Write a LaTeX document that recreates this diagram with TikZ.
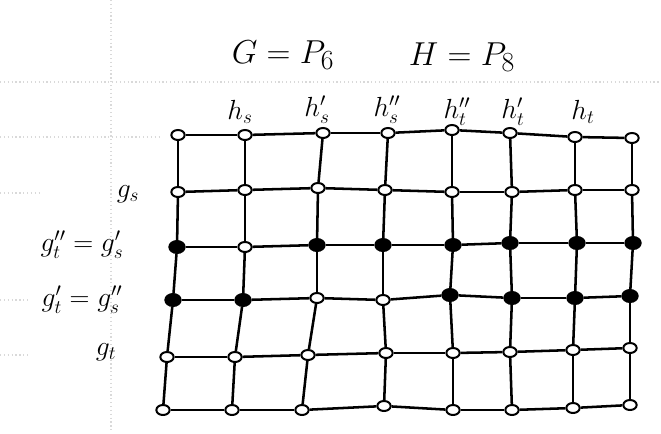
\documentclass[tikz,border=0pt]{standalone}
\usetikzlibrary{shapes.geometric}
\begin{document}
\begin{tikzpicture}[x=0.75pt,y=-0.75pt,
  vtx/.style={ellipse,draw,line width=1.5pt,minimum width=10pt,minimum height=7.5pt,inner sep=0pt,fill=white},
  full/.style={fill=black,minimum width=11.5pt,minimum height=9pt},
  link/.style={line width=1.9pt,black},
  faint/.style={gray!30,dotted,line width=0.9pt},
  lab/.style={font=\fontsize{20}{22}\selectfont,inner sep=1pt},
  rlab/.style={font=\fontsize{22}{24}\selectfont,inner sep=1pt},
  ttl/.style={font=\fontsize{30}{34}\selectfont,inner sep=1pt}]
\useasboundingbox (0,0) rectangle (661,433);
% faint notebook lines
\draw[faint] (0,82) -- (661,82);
\draw[faint] (111,0) -- (111,433);
\draw[faint] (0,137) -- (160,137);
\draw[faint] (0,193) -- (40,193);
\draw[faint] (0,300) -- (30,300);
\draw[faint] (0,355) -- (30,355);
% vertices
\foreach \c/\x/\y in {1/178/135,2/245/135,3/323/133,4/388/133,5/452/130,6/510/133,7/575/137,8/632/138}
  \node[vtx] (v1-\c) at (\x,\y) {};
\foreach \c/\x/\y in {1/178/192,2/245/190,3/318/188,4/385/190,5/452/192,6/512/192,7/575/190,8/632/190}
  \node[vtx] (v2-\c) at (\x,\y) {};
\foreach \c/\x/\y/\f in {1/177/247/full,2/245/247/,3/317/245/full,4/383/245/full,5/453/245/full,6/510/243/full,7/577/243/full,8/633/243/full}
  \node[vtx,\f] (v3-\c) at (\x,\y) {};
\foreach \c/\x/\y/\f in {1/173/300/full,2/243/300/full,3/317/298/,4/383/300/,5/450/295/full,6/512/298/full,7/575/298/full,8/630/296/full}
  \node[vtx,\f] (v4-\c) at (\x,\y) {};
\foreach \c/\x/\y in {1/167/357,2/235/357,3/308/355,4/386/353,5/453/353,6/510/352,7/573/350,8/630/348}
  \node[vtx] (v5-\c) at (\x,\y) {};
\foreach \c/\x/\y in {1/163/410,2/232/410,3/302/410,4/384/406,5/453/410,6/512/410,7/573/408,8/630/405}
  \node[vtx] (v6-\c) at (\x,\y) {};
% edges: rows
\foreach \r in {1,2,3,4,5,6}{
  \foreach \c/\d in {1/2,2/3,3/4,4/5,5/6,6/7,7/8}{
    \draw[link] (v\r-\c) -- (v\r-\d);
  }
}
% edges: columns
\foreach \c in {1,2,3,4,5,6,7,8}{
  \foreach \r/\s in {1/2,2/3,3/4,4/5,5/6}{
    \draw[link] (v\r-\c) -- (v\s-\c);
  }
}
% titles
\node[ttl] (tg) at (283,55) {$G=P_6$};
\node[ttl] (th) at (462,57) {$H=P_8$};
% column labels
\node[lab] (hs) at (240,112) {$h_s$};
\node[lab] (hs1) at (317,110) {$h_s'$};
\node[lab] (hs2) at (387,110) {$h_s''$};
\node[lab] (ht2) at (457,112) {$h_t''$};
\node[lab] (ht1) at (513,112) {$h_t'$};
\node[lab] (ht) at (583,112) {$h_t$};
% row labels
\node[rlab] (gs) at (128,194) {$g_s$};
\node[rlab] (gt2) at (82,245) {$g_t''=g_s'$};
\node[rlab] (gt1) at (82,300) {$g_t'=g_s''$};
\node[rlab] (gt) at (106,352) {$g_t$};
\end{tikzpicture}
\end{document}
